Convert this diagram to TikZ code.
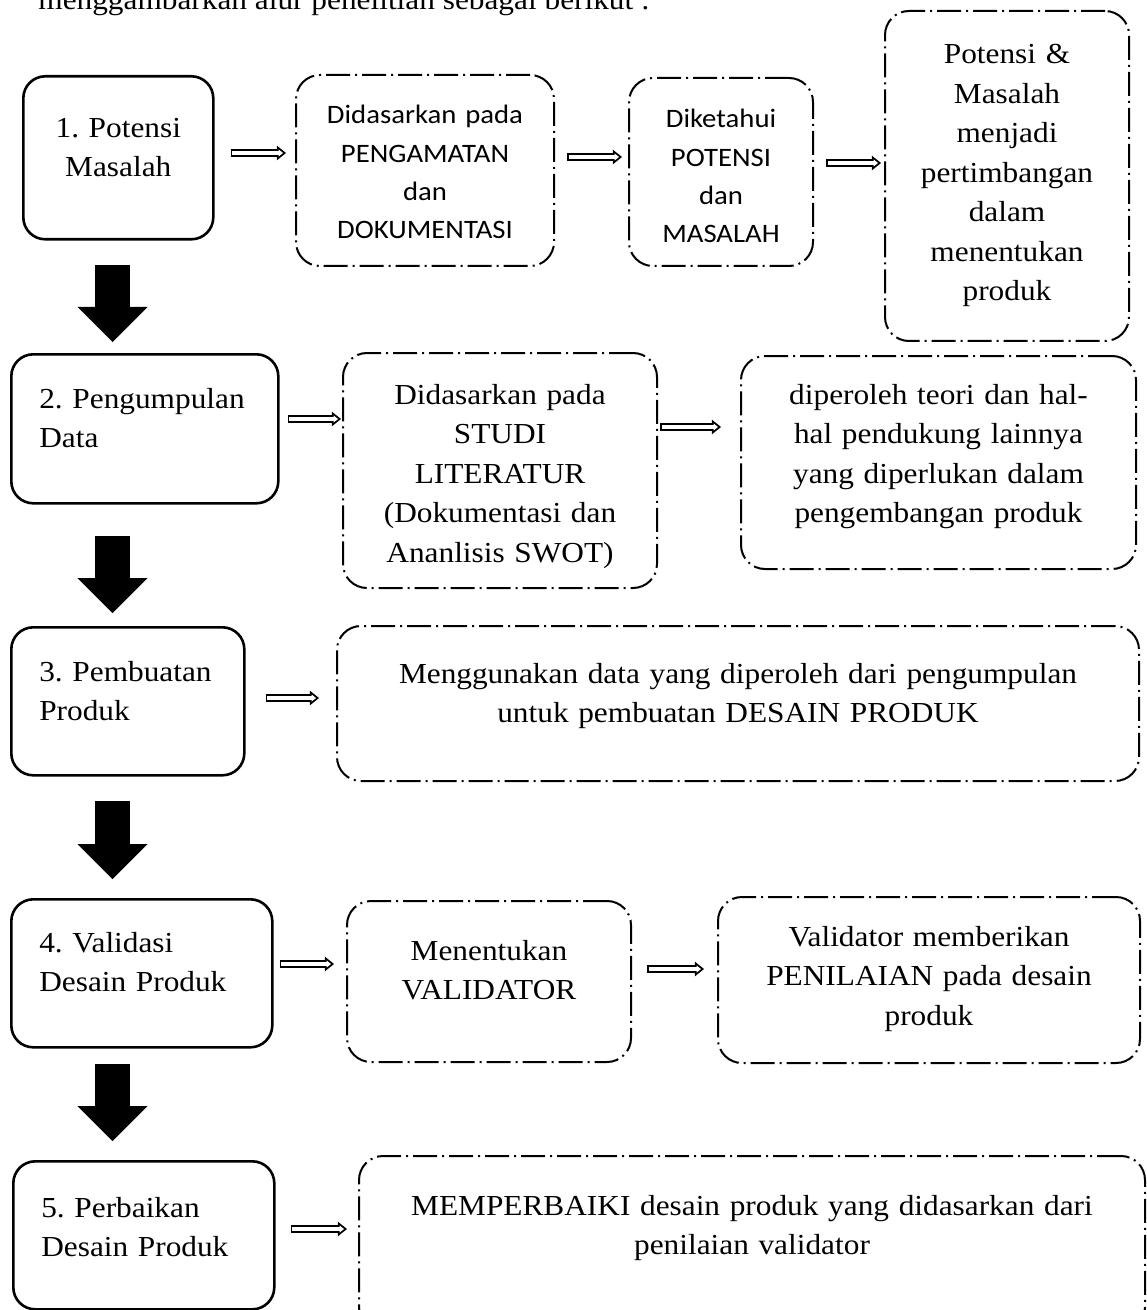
\documentclass[tikz,border=0pt]{standalone}
\usepackage{fontspec}
\setmainfont{Liberation Serif}[FakeStretch=1.08]
\newfontfamily\clbfam{Carlito}[FakeStretch=1.08]
\usepackage{tikz}
\usetikzlibrary{arrows.meta}
\newcommand{\tnr}{\fontsize{14.5pt}{19.75pt}\selectfont}
\newcommand{\clb}{\clbfam\fontsize{13.3pt}{19.15pt}\selectfont}

\begin{document}
\begin{tikzpicture}[x=0.5pt, y=-0.5pt,
    stepbox/.style={draw, line width=1.3pt, rounded corners=11pt, anchor=north west,
                    inner xsep=14pt, inner ysep=2pt, text height=0pt, font=\tnr},
    sidebox/.style={draw, line width=1pt, rounded corners=12pt, anchor=north west,
                    dash pattern=on 12pt off 2.5pt on 1pt off 2.5pt,
                    inner xsep=4pt, inner ysep=2pt, text height=0pt, align=center, font=\tnr},
    hol/.style={line width=4.25pt, -{Triangle[length=4.6pt, width=7.4pt, line width=0pt]}},
    holin/.style={white, line width=2.45pt, -{Triangle[length=2.2pt, width=3.5pt, line width=0pt]}},
    bigarrow/.style={line width=17.5pt, -{Triangle[length=17.5pt, width=35pt, line width=0pt]}}
]
\fill[white] (0,0) rectangle (1146,1310);
\useasboundingbox (0,0) rectangle (1146,1310);
\clip (0,0) rectangle (1146,1310);

\node[anchor=base west, inner sep=0pt, font=\tnr] (intro) at (38,10) {menggambarkan alur penelitian sebagai berikut :};

% tahapan
\node[stepbox, align=center, minimum width=95pt, minimum height=81.5pt, text width=67pt, text depth=20.5pt] (s1) at (22,75) {1.~Potensi\\Masalah};
\node[stepbox, align=left, minimum width=133.5pt, minimum height=74.5pt, text width=105.5pt, text depth=20.5pt] (s2) at (10,353) {2.~Pengumpulan\\Data};
\node[stepbox, align=left, minimum width=116.5pt, minimum height=74pt, text width=88.5pt, text depth=20pt] (s3) at (10,626) {3.~Pembuatan\\Produk};
\node[stepbox, align=left, minimum width=130.5pt, minimum height=74pt, text width=102.5pt, text depth=21pt] (s4) at (10,898) {4.~Validasi\\Desain~Produk};
\node[stepbox, align=left, minimum width=130.5pt, minimum height=74pt, text width=102.5pt, text depth=18pt] (s5) at (12,1160) {5.~Perbaikan\\Desain~Produk};

% keterangan
\node[sidebox, font=\clb, minimum width=129pt, minimum height=95.5pt, text width=121pt, text depth=46.5pt] (d1) at (295,74) {Didasarkan pada\\PENGAMATAN\\dan\\DOKUMENTASI};
\node[sidebox, font=\clb, minimum width=92pt, minimum height=94pt, text width=84pt, text depth=44pt] (d2) at (628,77) {Diketahui\\POTENSI\\dan\\MASALAH};
\node[sidebox, minimum width=122pt, minimum height=165pt, text width=114pt, text depth=112pt] (d3) at (884,10) {Potensi \&\\Masalah\\menjadi\\pertimbangan\\dalam\\menentukan\\produk};
\node[sidebox, minimum width=157pt, minimum height=117.5pt, text width=149pt, text depth=66.5pt] (lit) at (342,352) {Didasarkan pada\\STUDI\\LITERATUR\\(Dokumentasi dan\\Ananlisis SWOT)};
\node[sidebox, minimum width=197.5pt, minimum height=106.5pt, text width=189.5pt, text depth=58.5pt] (teori) at (740,355) {diperoleh teori dan hal-\\hal pendukung lainnya\\yang diperlukan dalam\\pengembangan produk};
\node[sidebox, minimum width=401pt, minimum height=77.5pt, text width=393pt, text depth=20.5pt] (desain) at (336,625) {Menggunakan data yang diperoleh dari pengumpulan\\untuk pembuatan DESAIN PRODUK};
\node[sidebox, minimum width=142pt, minimum height=80.5pt, text width=134pt, text depth=21.5pt] (valid) at (346,900) {Menentukan\\VALIDATOR};
\node[sidebox, minimum width=211pt, minimum height=83pt, text width=203pt, text depth=34pt] (nilai) at (717,896) {Validator memberikan\\PENILAIAN pada desain\\produk};
\node[sidebox, minimum width=393pt, minimum height=87.5pt, text width=385pt, text depth=28.5pt] (baiki) at (358,1155) {MEMPERBAIKI desain produk yang didasarkan dari\\penilaian validator};

% panah tebal antar tahap
\coordinate (ax) at (112.5,0);
\foreach \a/\b/\gs/\ge in {s1/s2/12/5.5, s2/s3/15.5/6.5, s3/s4/12/9.5, s4/s5/7.5/9.5}
  \draw[bigarrow, shorten <=\gs pt, shorten >=\ge pt] (\a.south -| ax) -- (\b.north -| ax);

% panah kecil
\foreach \a/\b/\y/\gs/\ge in {s1/d1/153/8/4.5, d1/d2/157/6/3, d2/d3/163/6/1.5,
    s2/lit/419/4/0.5, lit/teori/427/1/9.5, s3/desain/698/10/8.5,
    s4/valid/964/3/6, s5/baiki/1229/7.5/5.5, valid/nilai/969/7.5/6.5}{
  \draw[hol, shorten <=\gs pt, shorten >=\ge pt] (\a.east |- 0,\y) -- (\b.west |- 0,\y);
  \draw[holin, shorten <=\gs pt+0.9pt, shorten >=\ge pt+1.5pt] (\a.east |- 0,\y) -- (\b.west |- 0,\y);
}
\end{tikzpicture}
\end{document}
